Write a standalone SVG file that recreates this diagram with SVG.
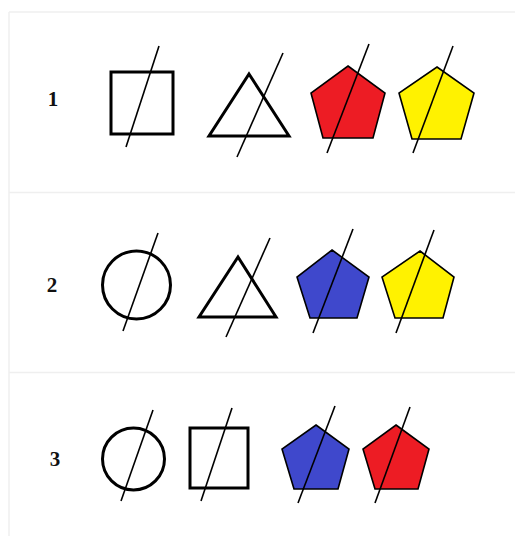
<svg xmlns="http://www.w3.org/2000/svg" width="515" height="536" viewBox="0 0 515 536">
<style>
.grid{stroke:#efefef;stroke-width:1.5;fill:none}
.num{font-family:"Liberation Serif",serif;font-weight:bold;font-size:21px;fill:#111;text-anchor:middle}
.open{fill:none;stroke:#000;stroke-width:3}
.pent{stroke:#000;stroke-width:1.6;stroke-linejoin:miter}
.slash{stroke:#000;stroke-width:1.6}
.red{fill:#ED1C24}.yellow{fill:#FFF200}.blue{fill:#3F48CC}
</style>
<rect width="515" height="536" fill="#fff"/>
<g id="table">
<line class="grid" x1="9" y1="12" x2="9" y2="536"/>
<line class="grid" x1="9" y1="12" x2="515" y2="12"/>
<line class="grid" x1="9" y1="192.5" x2="515" y2="192.5"/>
<line class="grid" x1="9" y1="372.5" x2="515" y2="372.5"/>
</g>
<g id="row1">
<text class="num" x="53" y="106">1</text>
<rect class="open" x="111" y="72" width="62" height="62"/>
<line class="slash" x1="159" y1="46" x2="126" y2="147"/>
<polygon class="open" points="249,74 289,136 209,136"/>
<line class="slash" x1="283" y1="53" x2="237" y2="157"/>
<polygon class="pent red" points="348,66 385,93 373,138 323,138 311,93"/>
<line class="slash" x1="369" y1="44" x2="327" y2="153"/>
<polygon class="pent yellow" points="437,67 474,93 461,139 412,139 399,93"/>
<line class="slash" x1="453" y1="46" x2="413" y2="153"/>
</g>
<g id="row2">
<text class="num" x="52" y="292">2</text>
<circle class="open" cx="136.5" cy="285" r="34"/>
<line class="slash" x1="158" y1="233" x2="123" y2="331"/>
<polygon class="open" points="238,257 276,317 199,317"/>
<line class="slash" x1="270" y1="238" x2="226" y2="337"/>
<polygon class="pent blue" points="332,250 369,277 357,318 310,318 297,277"/>
<line class="slash" x1="353" y1="229" x2="313" y2="333"/>
<polygon class="pent yellow" points="420,251 454,277 443,318 395,318 382,277"/>
<line class="slash" x1="434" y1="230" x2="396" y2="333"/>
</g>
<g id="row3">
<text class="num" x="55" y="466">3</text>
<circle class="open" cx="133.5" cy="459" r="31"/>
<line class="slash" x1="153" y1="410" x2="121" y2="501"/>
<rect class="open" x="190" y="428" width="58" height="60"/>
<line class="slash" x1="232" y1="408" x2="201" y2="501"/>
<polygon class="pent blue" points="316,425 349,449 338,489 294,489 282,449"/>
<line class="slash" x1="335" y1="406" x2="298" y2="503"/>
<polygon class="pent red" points="396,425 429,449 418,489 375,489 363,449"/>
<line class="slash" x1="410" y1="407" x2="375" y2="503"/>
</g>
</svg>
